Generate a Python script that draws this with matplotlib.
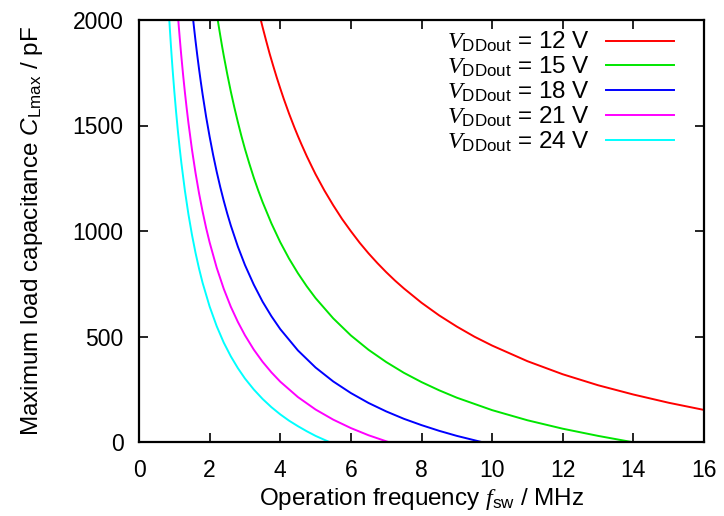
import matplotlib
matplotlib.use("Agg")
import matplotlib.pyplot as plt

plt.rcParams['font.family'] = ['Liberation Sans', 'DejaVu Sans']
plt.rcParams['mathtext.fontset'] = 'custom'
plt.rcParams['mathtext.rm'] = 'Liberation Sans'
plt.rcParams['mathtext.it'] = 'Liberation Serif:italic'
plt.rcParams['mathtext.sf'] = 'Liberation Sans:italic'

# Data (frequency in MHz, capacitance in pF)
f_12 = [3.42, 3.5, 3.6, 3.7, 3.8, 3.9, 4.0, 4.1, 4.25, 4.4, 4.5, 4.6, 4.75, 4.9, 5.0, 5.25, 5.5, 5.75,
        6.0, 6.25, 6.5, 6.75, 7.0, 7.25, 7.5, 8.0, 8.5, 9.0, 9.5, 10, 11, 12, 13, 14, 15, 16]
c_12 = [2020, 1966, 1902, 1840, 1783, 1728, 1676, 1626, 1556, 1491, 1450, 1411, 1355, 1303, 1269, 1192, 1122, 1057,
        999, 944, 894, 848, 805, 765, 728, 660, 600, 547, 499, 457, 383, 321, 269, 225, 186, 152]

f_15 = [2.2, 2.25, 2.3, 2.35, 2.4, 2.5, 2.6, 2.7, 2.8, 2.9, 3.0, 3.125, 3.25, 3.375, 3.5, 3.75, 4.0, 4.25,
        4.5, 4.75, 5.0, 5.5, 6.0, 6.5, 7.0, 7.5, 8.0, 8.5, 9.0, 10, 11, 12, 13, 13.95]
c_15 = [2032, 1979, 1928, 1878, 1831, 1743, 1661, 1586, 1516, 1450, 1389, 1319, 1253, 1193, 1137, 1036, 947, 869,
        800, 738, 682, 586, 505, 437, 379, 328, 284, 245, 210, 151, 103, 63, 29, 0]

f_18 = [1.52, 1.56, 1.6, 1.65, 1.7, 1.75, 1.8, 1.9, 2.0, 2.1, 2.2, 2.3, 2.4, 2.5, 2.6, 2.8, 3.0, 3.25,
        3.5, 3.75, 4.0, 4.5, 5.0, 5.5, 6.0, 6.5, 7.0, 7.5, 8.0, 8.5, 9.0, 9.7]
c_18 = [2022, 1961, 1902, 1833, 1768, 1707, 1649, 1542, 1447, 1360, 1281, 1209, 1143, 1082, 1026, 926, 839, 746,
        665, 596, 535, 434, 353, 287, 232, 185, 145, 110, 80, 53, 29, 0]

f_21 = [1.1, 1.125, 1.15, 1.175, 1.2, 1.25, 1.3, 1.35, 1.4, 1.5, 1.6, 1.7, 1.8, 1.9, 2.0, 2.2, 2.4, 2.6,
        2.8, 3.0, 3.25, 3.5, 3.75, 4.0, 4.5, 5.0, 5.5, 6.0, 6.5, 7.06]
c_21 = [2026, 1973, 1922, 1873, 1826, 1738, 1657, 1582, 1512, 1386, 1276, 1179, 1093, 1015, 946, 826, 726, 641,
        569, 506, 438, 380, 330, 286, 213, 154, 106, 66, 32, 0]

f_24 = [0.85, 0.875, 0.9, 0.925, 0.95, 1.0, 1.05, 1.1, 1.15, 1.2, 1.3, 1.4, 1.5, 1.6, 1.7, 1.8, 2.0, 2.2,
        2.4, 2.6, 2.8, 3.0, 3.25, 3.5, 3.75, 4.0, 4.25, 4.5, 4.75, 5.0, 5.2, 5.39]
c_24 = [2022, 1954, 1889, 1827, 1769, 1662, 1565, 1476, 1396, 1322, 1191, 1079, 982, 897, 822, 755, 642, 549,
        471, 406, 350, 301, 249, 204, 165, 131, 101, 75, 51, 29, 14, 0]

voltages = ['12', '15', '18', '21', '24']
colors = ['#ff0000', '#00e600', '#0000ff', '#ff00ff', '#00ffff']
freqs = [f_12, f_15, f_18, f_21, f_24]
caps = [c_12, c_15, c_18, c_21, c_24]

x_ticks = [0, 2, 4, 6, 8, 10, 12, 14, 16]
y_ticks = [0, 500, 1000, 1500, 2000]

fig = plt.figure(figsize=(7.24, 5.16), dpi=100)
ax = fig.add_axes([139 / 724, 1 - 442 / 516, (704 - 139) / 724, (442 - 20) / 516])

for f, c, v, col in zip(freqs, caps, voltages, colors):
    ax.plot(f, c, color=col, lw=1.4, label=r'$V_{\mathrm{DDout}}$ = ' + v + ' V')

ax.set_xlim(0, 16)
ax.set_ylim(0, 2000)
ax.set_xticks(x_ticks)
ax.set_yticks(y_ticks)
ax.tick_params(direction='in', length=6.5, width=1.2, top=True, right=True,
               labelsize=16.5)
ax.tick_params(axis='x', pad=12)
ax.tick_params(axis='y', pad=11)
for s in ax.spines.values():
    s.set_linewidth(1.6)

ax.set_xlabel(r'Operation frequency $f_{\mathrm{sw}}$ / MHz', fontsize=17.5, labelpad=3)
ax.set_ylabel(r'Maximum load capacitance $\mathsf{C}_{\mathrm{Lmax}}$ / pF', fontsize=17.5, labelpad=20)

leg = ax.legend(loc='upper right', bbox_to_anchor=(1 - 30 / 565, 0.976), frameon=False,
                markerfirst=False, fontsize=17.5, handlelength=2.8, handletextpad=0.66,
                labelspacing=0.02, borderaxespad=0.0, borderpad=0.0)

fig.savefig('out.png', dpi=100)
